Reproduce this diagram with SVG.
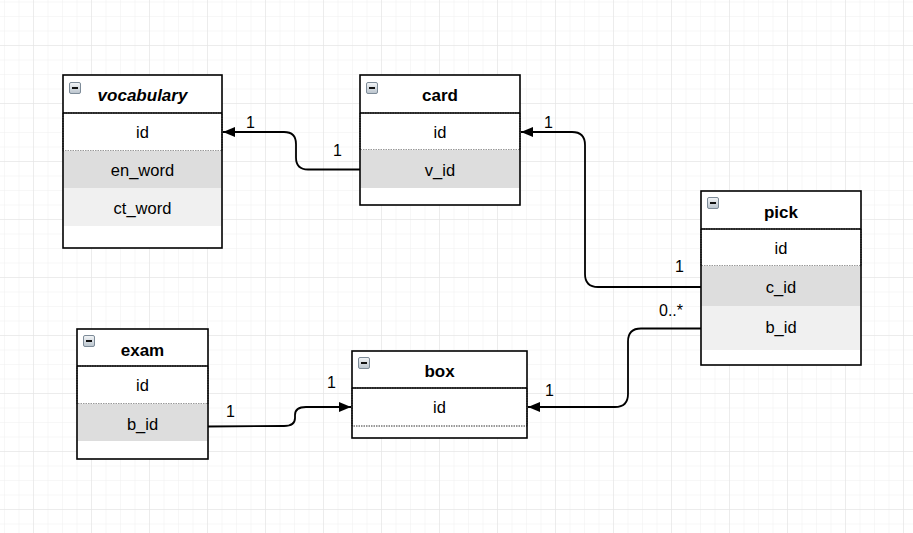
<svg xmlns="http://www.w3.org/2000/svg" width="913" height="533" viewBox="0 0 913 533">
<defs>
<pattern id="minor" x="4" y="1.5" width="14.5" height="14.5" patternUnits="userSpaceOnUse">
<path d="M0 0V14.5M0 0H14.5" fill="none" stroke="#efefef" stroke-width="1"/>
</pattern>
<pattern id="major" x="33" y="45" width="58" height="58" patternUnits="userSpaceOnUse">
<path d="M0 0V58M0 0H58" fill="none" stroke="#e2e2e2" stroke-width="1"/>
</pattern>
<linearGradient id="ig" x1="0" y1="0" x2="0" y2="1">
<stop offset="0" stop-color="#f4f6f8"/>
<stop offset="1" stop-color="#b9c3cc"/>
</linearGradient>
<marker id="arr" viewBox="0 0 12 10" refX="12" refY="5" markerWidth="12" markerHeight="10" markerUnits="userSpaceOnUse" orient="auto">
<path d="M0 0L12 5L0 10Z" fill="#000"/>
</marker>
<g id="icon">
<rect x="0.5" y="0.5" width="11" height="11" rx="1.5" fill="url(#ig)" stroke="#7d8b98"/>
<path d="M3 6H9" stroke="#111" stroke-width="2"/>
</g>
</defs>
<style>
.frame{fill:none;stroke:#000;stroke-width:1.6}
.hdr{fill:#fff}
.sep{stroke:#000;stroke-width:1.6}
.dot{fill:#fff;stroke:#333;stroke-width:1;stroke-dasharray:1.5 1}
.g1{fill:#dddddd}
.g2{fill:#f0f0f0}
.w{fill:#fff}
text{font-family:"Liberation Sans",Arial,sans-serif;fill:#000}
.t{font-size:17px;font-weight:bold;text-anchor:middle}
.f{font-size:16.5px;text-anchor:middle}
.lbl{font-size:16px}
.edge{fill:none;stroke:#000;stroke-width:1.8}
</style>
<rect width="913" height="533" fill="#fff"/>
<rect width="913" height="533" fill="url(#minor)"/>
<rect width="913" height="533" fill="url(#major)"/>

<g id="connectors">
<path class="edge" d="M360 169.5H308Q296 169.5 296 157.5V144Q296 132 284 132H223" marker-end="url(#arr)"/>
<path class="edge" d="M701 287H598Q585 287 585 274V145Q585 132 572 132H521" marker-end="url(#arr)"/>
<path class="edge" d="M701 328.5H641Q628 328.5 628 341.5V394Q628 407 615 407H528" marker-end="url(#arr)"/>
<path class="edge" d="M208 426.5L284 426Q295 426 295 418V415Q295 407 306 407H351" marker-end="url(#arr)"/>
<text class="lbl" x="246" y="128">1</text>
<text class="lbl" x="333" y="156">1</text>
<text class="lbl" x="544" y="128">1</text>
<text class="lbl" x="675" y="272">1</text>
<text class="lbl" x="659" y="316">0..*</text>
<text class="lbl" x="545" y="396">1</text>
<text class="lbl" x="226" y="417">1</text>
<text class="lbl" x="327" y="388">1</text>
</g>

<g id="vocabulary">
<rect class="w" x="63" y="75" width="159" height="173"/>
<rect class="dot" x="63" y="113" width="159" height="38"/>
<rect class="g1" x="63.5" y="151" width="158" height="37"/>
<rect class="g2" x="63.5" y="188" width="158" height="38"/>
<line class="sep" x1="63" y1="113" x2="222" y2="113"/>
<rect class="frame" x="63" y="75" width="159" height="173"/>
<use href="#icon" x="69" y="82"/>
<text class="t" x="142.5" y="101" font-style="italic">vocabulary</text>
<text class="f" x="142.5" y="138">id</text>
<text class="f" x="142.5" y="175.5">en_word</text>
<text class="f" x="142.5" y="213.5">ct_word</text>
</g>

<g id="card">
<rect class="w" x="360" y="75" width="160" height="130"/>
<rect class="dot" x="360" y="113" width="160" height="37"/>
<rect class="g1" x="360.5" y="150" width="159" height="38"/>
<line class="sep" x1="360" y1="113" x2="520" y2="113"/>
<rect class="frame" x="360" y="75" width="160" height="130"/>
<use href="#icon" x="366" y="82"/>
<text class="t" x="440" y="101">card</text>
<text class="f" x="440" y="138">id</text>
<text class="f" x="440" y="175.5">v_id</text>
</g>

<g id="pick">
<rect class="w" x="701" y="191" width="160" height="174"/>
<rect class="dot" x="701" y="229" width="160" height="37"/>
<rect class="g1" x="701.5" y="266" width="159" height="40"/>
<rect class="g2" x="701.5" y="306" width="159" height="44"/>
<line class="sep" x1="701" y1="229" x2="861" y2="229"/>
<rect class="frame" x="701" y="191" width="160" height="174"/>
<use href="#icon" x="707" y="197"/>
<text class="t" x="781" y="218">pick</text>
<text class="f" x="781" y="254">id</text>
<text class="f" x="781" y="292.5">c_id</text>
<text class="f" x="781" y="333">b_id</text>
</g>

<g id="exam">
<rect class="w" x="77" y="329" width="131" height="130"/>
<rect class="dot" x="77" y="366" width="131" height="38"/>
<rect class="g1" x="77.5" y="404" width="130" height="37"/>
<line class="sep" x1="77" y1="366" x2="208" y2="366"/>
<rect class="frame" x="77" y="329" width="131" height="130"/>
<use href="#icon" x="83" y="335"/>
<text class="t" x="142.5" y="356">exam</text>
<text class="f" x="142.5" y="391">id</text>
<text class="f" x="142.5" y="430">b_id</text>
</g>

<g id="box">
<rect class="w" x="352" y="351" width="175" height="87"/>
<rect class="dot" x="352" y="388" width="175" height="38"/>
<line class="sep" x1="352" y1="388" x2="527" y2="388"/>
<rect class="frame" x="352" y="351" width="175" height="87"/>
<use href="#icon" x="358" y="357"/>
<text class="t" x="439.5" y="377">box</text>
<text class="f" x="439.5" y="413">id</text>
</g>
</svg>
